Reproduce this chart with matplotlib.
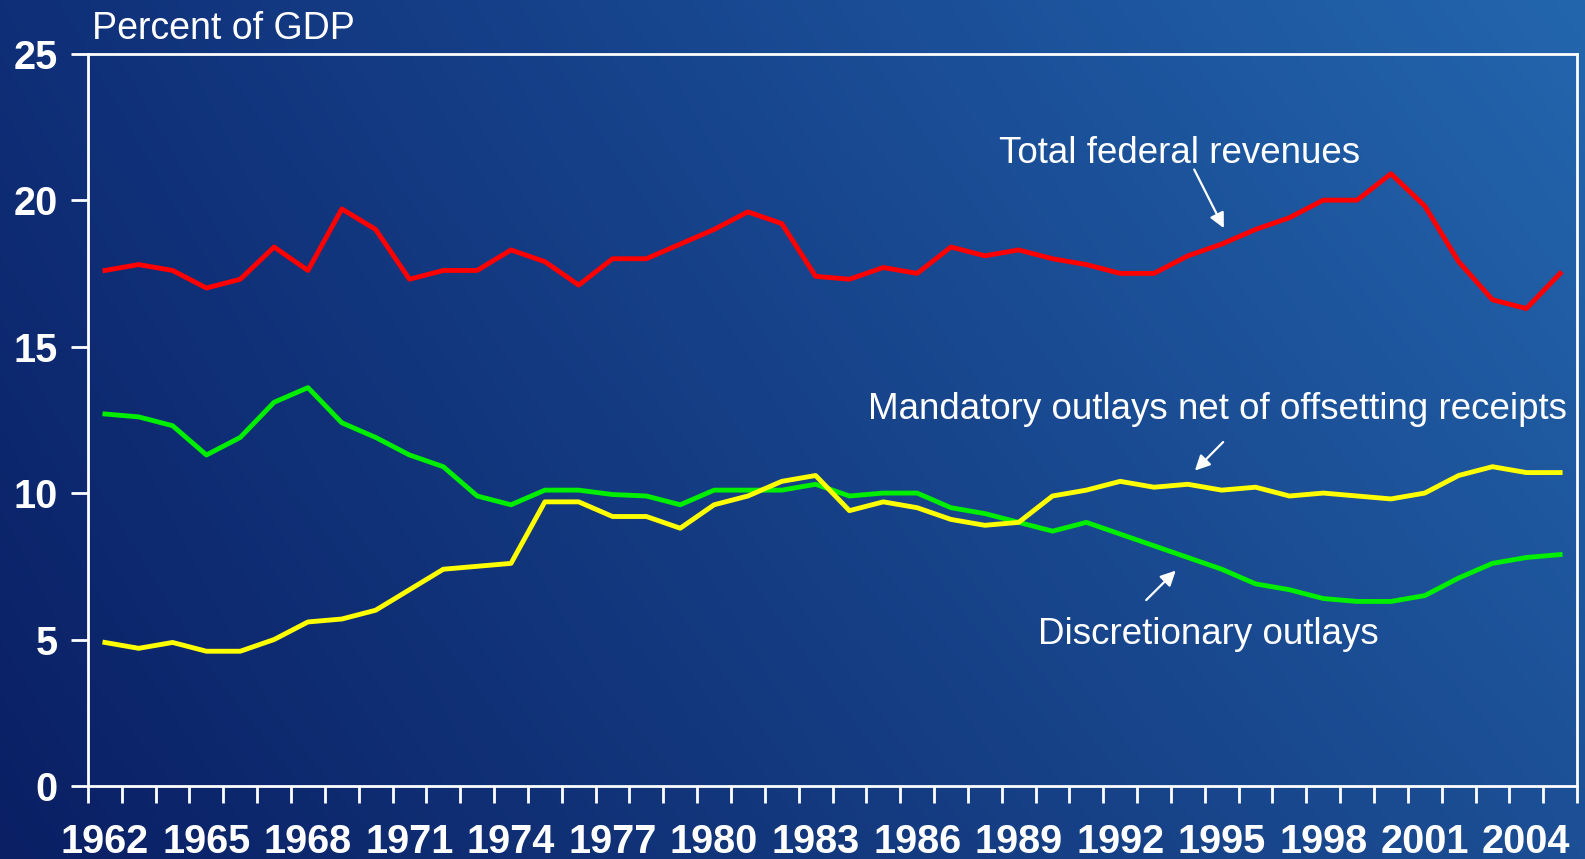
import numpy as np
import matplotlib
matplotlib.use("Agg")
import matplotlib.pyplot as plt

plt.rcParams['font.family'] = ['Liberation Sans', 'DejaVu Sans']

years = list(range(1962, 2006))

revenues = [17.6, 17.8, 17.6, 17.0, 17.3, 18.4, 17.6, 19.7, 19.0, 17.3,
            17.6, 17.6, 18.3, 17.9, 17.1, 18.0, 18.0, 18.5, 19.0, 19.6,
            19.2, 17.4, 17.3, 17.7, 17.5, 18.4, 18.1, 18.3, 18.0, 17.8,
            17.5, 17.5, 18.1, 18.5, 19.0, 19.4, 20.0, 20.0, 20.9, 19.8,
            17.9, 16.6, 16.3, 17.5]

discretionary = [12.7, 12.6, 12.3, 11.3, 11.9, 13.1, 13.6, 12.4, 11.9, 11.3,
                 10.9, 9.9, 9.6, 10.1, 10.1, 9.95, 9.9, 9.6, 10.1, 10.1,
                 10.1, 10.3, 9.9, 10.0, 10.0, 9.5, 9.3, 9.0, 8.7, 9.0,
                 8.6, 8.2, 7.8, 7.4, 6.9, 6.7, 6.4, 6.3, 6.3, 6.5,
                 7.1, 7.6, 7.8, 7.9]

mandatory = [4.9, 4.7, 4.9, 4.6, 4.6, 5.0, 5.6, 5.7, 6.0, 6.7,
             7.4, 7.5, 7.6, 9.7, 9.7, 9.2, 9.2, 8.8, 9.6, 9.9,
             10.4, 10.6, 9.4, 9.7, 9.5, 9.1, 8.9, 9.0, 9.9, 10.1,
             10.4, 10.2, 10.3, 10.1, 10.2, 9.9, 10.0, 9.9, 9.8, 10.0,
             10.6, 10.9, 10.7, 10.7]

tick_years = list(range(1962, 2006, 3))

fig = plt.figure(figsize=(15.85, 8.59), dpi=100)

# background gradient (dark navy bottom-left -> lighter blue top-right)
bg = fig.add_axes([0, 0, 1, 1], zorder=0)
c_bl = np.array([10, 31, 100]) / 255
c_tl = np.array([15, 47, 120]) / 255
c_br = np.array([28, 79, 149]) / 255
c_tr = np.array([35, 102, 174]) / 255
u = np.linspace(0, 1, 300)[None, :, None]
v = np.linspace(1, 0, 200)[:, None, None]
grad = (c_bl * (1 - u) * (1 - v) + c_br * u * (1 - v)
        + c_tl * (1 - u) * v + c_tr * u * v)
bg.imshow(grad, aspect='auto', extent=[0, 1, 0, 1], interpolation='bilinear')
bg.axis('off')

ax = fig.add_axes([0.0555, 0.085, 0.9395, 0.8525], zorder=1)
ax.patch.set_alpha(0)

x = np.arange(len(years))
ax.plot(x, revenues, color='#ff0000', lw=3.5)
ax.plot(x, discretionary, color='#00ee00', lw=3.5)
ax.plot(x, mandatory, color='#ffff00', lw=3.5)

ax.set_xlim(-0.5, len(years) - 0.5)
ax.set_ylim(0, 25)
ax.set_yticks([0, 5, 10, 15, 20, 25])
ax.set_xticks(np.arange(-0.5, len(years)), minor=False)
ax.set_xticklabels([])
ax.set_xticks([years.index(y) for y in tick_years], minor=True)
ax.set_xticklabels([str(y) for y in tick_years], minor=True)
ax.tick_params(axis='x', which='major', length=12, width=2, color='white', direction='out')
ax.tick_params(axis='x', which='minor', length=0, pad=27, labelsize=28.5, labelcolor='white')
ax.tick_params(axis='y', length=12, width=2, color='white', direction='out',
               labelsize=28.5, labelcolor='white', pad=10)
for lab in ax.get_xticklabels(minor=True) + ax.get_yticklabels():
    lab.set_fontweight('bold')
for s in ax.spines.values():
    s.set_color('white')
    s.set_linewidth(2)

fig.text(0.058, 0.955, 'Percent of GDP', color='white', fontsize=27,
         ha='left', va='baseline')

arrow = dict(arrowstyle='-|>,head_length=0.9,head_width=0.45', color='white', lw=1.6)
ax.text(31.76, 21.58, 'Total federal revenues', color='white', fontsize=26.5,
        ha='center', va='center')
ax.annotate('', xy=(33.1, 18.96), xytext=(32.15, 21.13), arrowprops=arrow)

ax.text(32.89, 12.85, 'Mandatory outlays net of offsetting receipts', color='white',
        fontsize=26.5, ha='center', va='center')
ax.annotate('', xy=(32.15, 10.70), xytext=(33.1, 11.81), arrowprops=arrow)

ax.text(32.6, 5.18, 'Discretionary outlays', color='white', fontsize=26.5,
        ha='center', va='center')
ax.annotate('', xy=(31.7, 7.42), xytext=(30.71, 6.28), arrowprops=arrow)

fig.savefig('out.png', dpi=100)
